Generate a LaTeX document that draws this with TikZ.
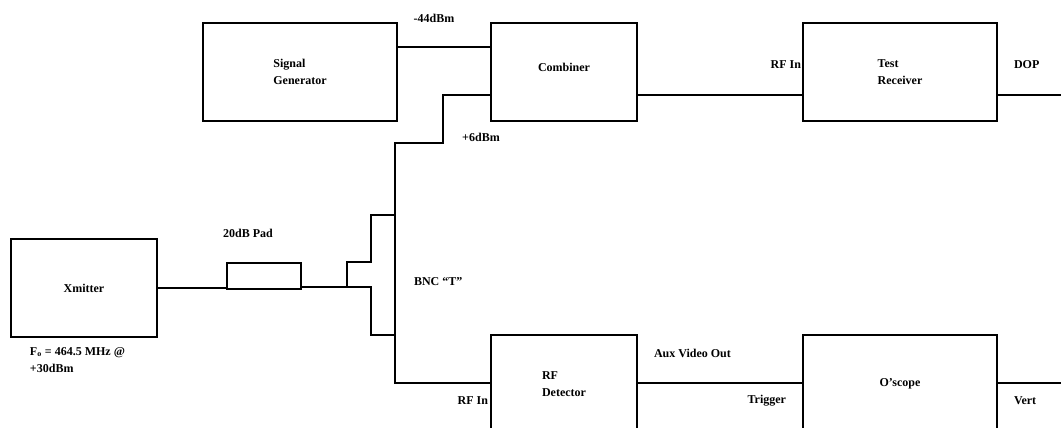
\documentclass[tikz,border=0pt]{standalone}
\usepackage{fontspec}
\setmainfont{Liberation Serif}
\usetikzlibrary{positioning}

\begin{document}
\begin{tikzpicture}[x=0.75pt,y=-0.75pt,line width=1.5pt,
	box/.style={draw,line width=1.5pt,minimum height=73.5pt,align=left,inner sep=0pt},
	lbl/.style={inner sep=0pt,align=left},
	every node/.style={font=\bfseries\fontsize{9}{12.5}\selectfont}]
	\useasboundingbox (0,0) rectangle (1061,428);
	% top row
	\node[box,minimum width=145.5pt] (sg) at (300,72){Signal\\Generator};
	\node[box,minimum width=109.5pt,text depth=7pt] (comb) at (564,72){Combiner};
	\node[box,minimum width=145.5pt] (rx) at (900,72){Test\\Receiver};
	% left side
	\node[box,minimum width=109.5pt] (xm) at (84,288){Xmitter};
	\node[box,minimum width=55.5pt,minimum height=19.5pt] (pad) at (264,276){};
	% bottom row, cut by the page edge
	\node[box,minimum width=109.5pt] (det) at (564,384){RF\\Detector};
	\node[box,minimum width=145.5pt] (osc) at (900,384){O'scope};
	% helper points
	\coordinate (hi) at (0,47);
	\coordinate (lo) at (0,95);
	\coordinate (dop) at (1061,95);
	\coordinate (vert) at (1061,383);
	\coordinate (tee) at (347,287);
	% connectors
	\draw (sg.east |- hi) -- (comb.west |- hi);
	\draw (comb.east |- lo) -- (rx.west |- lo);
	\draw (rx.east |- lo) -- (dop);
	\draw (comb.west |- lo) -| (443,143) -| (395,383) -- (det.west |- vert);
	\draw (xm.east) -- (pad.west |- xm.east);
	\draw (pad.east |- tee) -- (tee) |- (371,262) |- (395,215);
	\draw (tee) -- (371,287) |- (395,335);
	\draw (det.east |- vert) -- (osc.west |- vert);
	\draw (osc.east |- vert) -- (vert);
	% labels
	\node[lbl] (l44) at (434,18){-44dBm};
	\node[lbl] (l6) at (481,137){+6dBm};
	\node[lbl,anchor=east] (rfin1) at (802,65){RF In};
	\node[lbl,anchor=west] (ldop) at (1013,65){DOP};
	\node[lbl] (lpad) at (248,233){20dB Pad};
	\node[lbl,anchor=west] (lbnc) at (413,282){BNC “T”};
	\node[lbl,anchor=west] (lfo) at (29,360){F\textsubscript{o} = 464.5 MHz @\\+30dBm};
	\node[lbl,anchor=east] (rfin2) at (489,401){RF In};
	\node[lbl,anchor=west] (laux) at (653,353){Aux Video Out};
	\node[lbl,anchor=east] (ltrig) at (787,401){Trigger};
	\node[lbl,anchor=west] (lvert) at (1013,401){Vert};
\end{tikzpicture}
\end{document}
